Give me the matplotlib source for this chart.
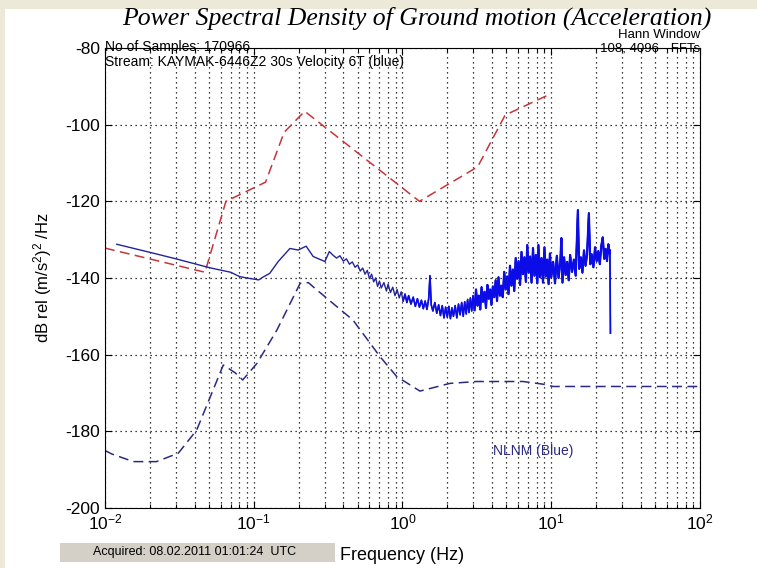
import matplotlib
matplotlib.use("Agg")
import matplotlib.pyplot as plt
from matplotlib.patches import Rectangle

plt.rcParams['font.family'] = ['Liberation Sans', 'DejaVu Sans']
plt.rcParams['mathtext.fontset'] = 'custom'
plt.rcParams['mathtext.rm'] = 'Liberation Sans'
plt.rcParams['mathtext.it'] = 'Liberation Sans:italic'
plt.rcParams['axes.unicode_minus'] = False

# high noise model (red dashed)
nhnm_freq = [0.01, 0.047, 0.065, 0.12, 0.16, 0.22, 1.3, 3.2, 4.9, 9.5]
nhnm_db = [-132.2, -138.5, -120.0, -115.0, -102.0, -96.5, -120.0, -111.0, -97.5, -92.3]

# low noise model (blue dashed)
nlnm_freq = [0.01, 0.0111, 0.0155, 0.0222, 0.0311, 0.0413, 0.0624, 0.0748, 0.0843,
             0.105, 0.143, 0.205, 0.233, 0.258, 0.465, 0.706, 0.914, 1.31, 2.08,
             3.15, 6.46, 8.8, 10.3, 100.0]
nlnm_db = [-185.0, -185.9, -187.9, -187.9, -185.7, -179.7, -162.7, -164.7, -166.6,
           -162.3, -153.6, -141.4, -141.2, -142.7, -151.0, -160.5, -165.7, -169.5, -167.5,
           -167.0, -167.0, -167.7, -168.3, -168.3]

# measured spectrum, KAYMAK-6446Z2 (blue solid)
psd_freq = [0.012, 0.02, 0.03, 0.047, 0.053, 0.07, 0.08, 0.09, 0.10, 0.108, 0.115,
            0.128, 0.146, 0.175, 0.199, 0.225, 0.251, 0.301, 0.322,
            0.34, 0.36, 0.38, 0.40, 0.42, 0.44, 0.46, 0.48, 0.50, 0.52, 0.54, 0.56,
            0.58, 0.60, 0.62, 0.64, 0.66, 0.68, 0.70, 0.72, 0.75, 0.78, 0.80, 0.83,
            0.86, 0.89, 0.92, 0.95, 0.98, 1.01, 1.04, 1.07, 1.10, 1.14, 1.18, 1.22,
            1.26, 1.30, 1.34, 1.38, 1.42, 1.46, 1.50, 1.53, 1.56, 1.60, 1.65, 1.70,
            1.75, 1.80, 1.85, 1.90, 1.95, 2.00, 2.05, 2.10, 2.15, 2.20, 2.26, 2.32,
            2.38, 2.44, 2.50, 2.56, 2.62, 2.68, 2.74, 2.80, 2.86, 2.92, 2.98,
            3.05, 3.12, 3.19, 3.26, 3.33, 3.40, 3.48, 3.56, 3.64, 3.72, 3.80, 3.88, 3.96,
            4.05, 4.14, 4.23, 4.32, 4.42, 4.52, 4.62, 4.72, 4.83, 4.94, 5.05, 5.16,
            5.28, 5.40, 5.52, 5.64, 5.77, 5.90, 6.03, 6.17, 6.31, 6.45, 6.60, 6.75,
            6.90, 7.05, 7.21, 7.37, 7.54, 7.71, 7.88, 8.06, 8.20, 8.40, 8.60, 8.80,
            9.00, 9.20, 9.40, 9.60, 9.80, 10.0, 10.3, 10.6, 10.9, 11.2, 11.5, 11.7,
            11.9, 12.2, 12.5, 12.8, 13.1, 13.4, 13.8, 14.2, 14.6, 15.1, 15.4, 15.8,
            16.2, 16.6, 17.0, 17.4, 17.9, 18.3, 18.7, 19.2, 19.7, 20.2, 20.7, 21.2,
            21.7, 22.2, 22.7, 23.2, 23.7, 24.2, 24.6, 24.8, 24.9, 25.0]
psd_db = [-131.2, -133.3, -135.0, -137.0, -137.5, -138.5, -139.6, -140.0, -140.3, -140.5, -139.8,
          -138.8, -135.7, -132.3, -132.7, -131.7, -134.4, -135.7, -133.1,
          -134.0, -134.8, -134.2, -135.6, -135.0, -136.4, -135.8, -137.2, -136.6, -138.2, -137.4, -139.0,
          -138.0, -140.2, -139.0, -141.0, -140.0, -142.2, -140.8, -142.6, -141.2, -143.4, -141.6, -143.8,
          -142.4, -144.6, -143.0, -145.2, -143.6, -146.0, -144.2, -146.4, -144.6, -146.8, -145.0, -147.4,
          -145.4, -147.6, -145.8, -148.0, -146.0, -148.2, -145.4, -139.4, -147.0, -148.6, -146.4, -149.2,
          -147.0, -149.8, -147.2, -150.4, -147.6, -150.2, -147.4, -150.6, -147.8, -150.0, -147.2, -150.4,
          -146.8, -149.6, -146.4, -150.0, -146.2, -149.4, -145.6, -149.0, -145.2, -148.6, -144.6,
          -148.4, -143.0, -147.2, -144.6, -148.2, -142.4, -146.2, -143.6, -147.8, -141.8, -145.4, -143.0, -147.0,
          -142.2, -145.0, -140.6, -146.0, -139.8, -144.6, -142.0, -145.0, -138.4, -143.0, -139.6, -144.2,
          -136.8, -142.0, -137.8, -143.4, -134.8, -140.2, -135.6, -141.8, -133.2, -139.0, -134.6, -141.0,
          -131.4, -138.6, -134.4, -141.2, -132.2, -139.4, -134.0, -141.4, -131.4, -139.8, -134.8, -141.2,
          -132.0, -139.6, -135.2, -141.6, -133.6, -139.8, -135.8, -141.4, -134.2, -140.0, -136.0, -129.6,
          -141.2, -134.6, -139.2, -135.8, -140.6, -134.0, -138.4, -135.2, -139.4, -122.3, -137.6, -134.6,
          -138.6, -132.8, -136.8, -134.0, -123.1, -136.4, -133.8, -137.2, -132.0, -135.6, -133.0, -136.4,
          -131.6, -129.4, -135.0, -132.4, -135.6, -131.2, -133.6, -132.8, -145.7, -154.4]

fig = plt.figure(figsize=(7.57, 5.68), dpi=100)
fig.patch.set_facecolor('white')
# windows frame strips at top and left
fig.patches.append(Rectangle((0, 1 - 9 / 568), 1, 9 / 568, transform=fig.transFigure,
                             facecolor='#ece9d8', edgecolor='none', zorder=0))
fig.patches.append(Rectangle((0, 0), 5 / 757, 1, transform=fig.transFigure,
                             facecolor='#ece9d8', edgecolor='none', zorder=0))

ax = fig.add_axes([105 / 757, 1 - 508 / 568, 595 / 757, 460 / 568])

ax.plot(nhnm_freq, nhnm_db, color='#c8343a', lw=1.1, dashes=(6.5, 3.5))
ax.plot(nlnm_freq, nlnm_db, color='#2a2a85', lw=1.1, dashes=(6.5, 3.5))
ax.plot(psd_freq, psd_db, color='#23239a', lw=1.0)
# the dense part of the spectrum shows up bright blue
hi = [(f, d) for f, d in zip(psd_freq, psd_db) if f >= 1.0]
ax.plot([p[0] for p in hi], [p[1] for p in hi], color='#0c0ce6', lw=1.2)
dense = [(f, d) for f, d in zip(psd_freq, psd_db) if 3.0 <= f <= 24.8]
ax.plot([p[0] for p in dense], [p[1] for p in dense], color='#0c0ce6', lw=1.6)

ax.set_xscale('log')
ax.set_xlim(0.01, 100)
ax.set_ylim(-200, -80)
ax.set_yticks(range(-200, -79, 20))

dots = (0, (1, 3))
ax.grid(True, which='major', color='k', ls=dots, lw=0.9)
ax.grid(True, which='minor', axis='x', color='k', ls=dots, lw=0.9)
ax.tick_params(which='both', direction='in', top=True, right=True, labelsize=12.5, width=0.8)
ax.tick_params(which='major', length=5)
ax.tick_params(which='minor', length=3)
for s in ax.spines.values():
    s.set_linewidth(0.8)

ax.set_xlabel('Frequency (Hz)', fontsize=13, labelpad=10)
ax.set_ylabel('dB rel (m/s$^2$)$^2$ /Hz', fontsize=12, labelpad=8)

fig.text(417 / 757, 1 - 18 / 568, 'Power Spectral Density of Ground motion (Acceleration)',
         fontsize=18.5, family='Liberation Serif', style='italic', ha='center', va='center')

ax.text(0.0, 0.994, 'No of Samples: 170966', transform=ax.transAxes, fontsize=10,
        ha='left', va='baseline')
ax.text(0.0, 0.984, 'Stream: KAYMAK-6446Z2 30s Velocity 6T (blue)', transform=ax.transAxes,
        fontsize=10, ha='left', va='top')
ax.text(1.0, 1.021, 'Hann Window', transform=ax.transAxes, fontsize=9.5, ha='right', va='baseline')
ax.text(1.0, 0.992, '108, 4096 - FFTs', transform=ax.transAxes, fontsize=9.5, ha='right', va='baseline')
ax.text(0.652, 0.124, 'NLNM (Blue)', transform=ax.transAxes, fontsize=10, color='#2a2a85',
        ha='left', va='center')

fig.patches.append(Rectangle((60 / 757, 1 - 562 / 568), 275 / 757, 19 / 568, transform=fig.transFigure,
                             facecolor='#d4d0c8', edgecolor='none'))
fig.text(93 / 757, 1 - 552 / 568, 'Acquired: 08.02.2011 01:01:24  UTC', fontsize=9, ha='left', va='center')

fig.savefig('out.png', dpi=100)
